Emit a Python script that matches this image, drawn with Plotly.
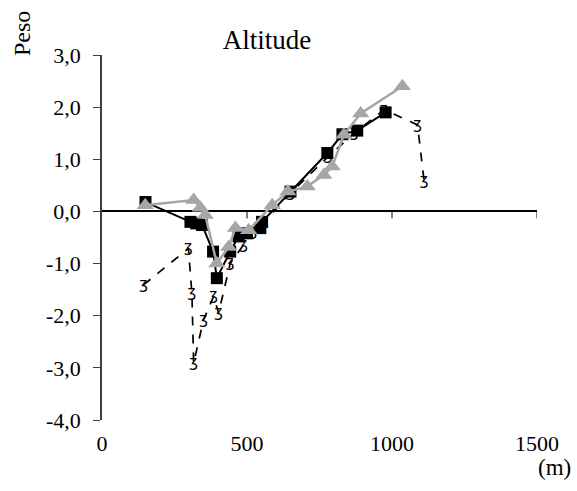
import plotly.graph_objects as go

# Series A: black squares, solid line
sq_x = [150, 305, 325, 345, 383, 396, 442, 471, 500, 546, 552, 650, 777, 829, 880, 978]
sq_y = [0.18, -0.20, -0.23, -0.26, -0.77, -1.28, -0.77, -0.48, -0.42, -0.32, -0.20, 0.38, 1.12, 1.48, 1.55, 1.90]

# Series B: grey triangles, solid grey line
tr_x = [149, 316, 339, 356, 396, 437, 460, 506, 587, 641, 708, 765, 794, 834, 892, 1036]
tr_y = [0.12, 0.22, 0.07, -0.07, -1.00, -0.68, -0.32, -0.36, 0.12, 0.38, 0.48, 0.70, 0.86, 1.47, 1.88, 2.40]

# Series C: dashed black line with curly markers
ds_x = [143, 298, 310, 316, 350, 385, 402, 442, 488, 520, 560, 650, 780, 869, 973, 1088, 1111]
ds_y = [-1.41, -0.71, -1.57, -2.91, -2.08, -1.63, -1.95, -1.00, -0.64, -0.40, -0.20, 0.35, 1.05, 1.50, 1.95, 1.66, 0.57]

x_ticks = [0, 500, 1000, 1500]
y_ticks = [3, 2, 1, 0, -1, -2, -3, -4]
y_tick_labels = ["3,0", "2,0", "1,0", "0,0", "-1,0", "-2,0", "-3,0", "-4,0"]

font_family = "Liberation Serif"

fig = go.Figure()
fig.add_trace(go.Scatter(
    x=ds_x, y=ds_y, mode="lines+text",
    line=dict(color="black", width=1.7, dash="dash"),
    text=["ʒ"] * len(ds_x), textposition="middle center",
    textfont=dict(color="black", size=15, family="DejaVu Sans"),
    showlegend=False, cliponaxis=False,
))
fig.add_trace(go.Scatter(
    x=sq_x, y=sq_y, mode="lines+markers",
    line=dict(color="black", width=2),
    marker=dict(symbol="square", size=12, color="black"),
    showlegend=False, cliponaxis=False,
))
fig.add_trace(go.Scatter(
    x=tr_x, y=tr_y, mode="lines+markers",
    line=dict(color="#a6a6a6", width=2.5),
    marker=dict(symbol="triangle-up", size=15, color="#a6a6a6"),
    showlegend=False, cliponaxis=False,
))

# small tick marks on the zero line
for xv in x_ticks[1:]:
    fig.add_shape(type="line", xref="x", yref="y", x0=xv, x1=xv,
                  ysizemode="pixel", yanchor=0, y0=0, y1=-7,
                  line=dict(color="black", width=1))

fig.update_layout(
    width=577, height=491,
    margin=dict(l=102, r=40, t=55, b=71),
    paper_bgcolor="white", plot_bgcolor="white",
    separators=",.",
    font=dict(family=font_family, size=22, color="black"),
    title=dict(text="Altitude", x=0.4627, xanchor="center", y=0.9185, yanchor="middle",
               font=dict(size=27, family=font_family, color="black")),
    xaxis=dict(range=[0, 1500], tickvals=x_ticks, ticks="", showline=False,
               showgrid=False, zeroline=False, ticklabelstandoff=8,
               tickfont=dict(size=22, family=font_family)),
    yaxis=dict(range=[-4, 3], tickvals=y_ticks, ticktext=y_tick_labels, ticks="outside",
               ticklen=7, tickcolor="#404040", showline=True, linecolor="#404040", linewidth=1.5,
               showgrid=False, zeroline=True, zerolinecolor="black", zerolinewidth=1.5,
               ticklabelstandoff=8, tickfont=dict(size=22, family=font_family)),
    annotations=[
        dict(text="(m)", xref="paper", yref="paper", x=1.041, y=-0.1315,
             xanchor="center", yanchor="middle", showarrow=False,
             font=dict(size=23, family=font_family)),
        dict(text="Peso", xref="paper", yref="paper", x=(22 - 102) / 435, y=(420 - 34) / 365,
             xanchor="center", yanchor="middle", textangle=-90, showarrow=False,
             font=dict(size=24, family=font_family)),
    ],
)

fig.write_html("out.html", config={"displayModeBar": False},
               post_script="document.body.style.margin='0';document.body.style.padding='0';")
